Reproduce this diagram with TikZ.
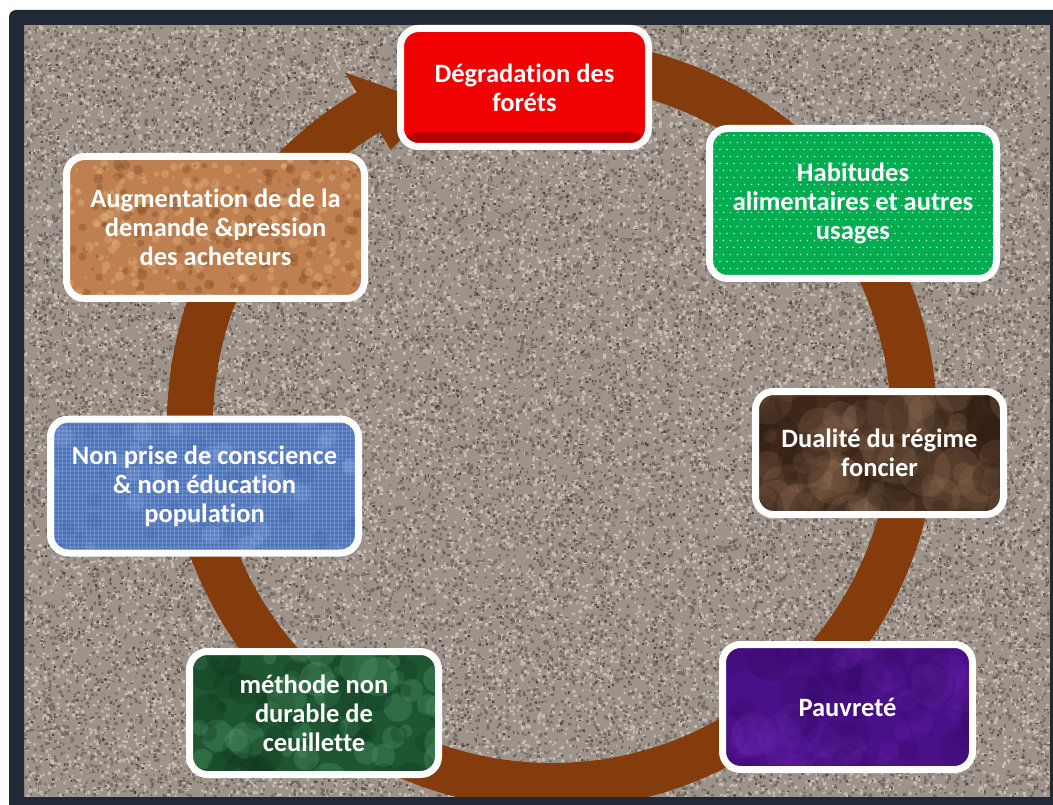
\documentclass[tikz,border=0pt]{standalone}
\usepackage{fontspec}
\setmainfont{Carlito}[Ligatures=NoCommon]
\definecolor{frameC}{RGB}{34,41,54}
\definecolor{graniteC}{RGB}{158,147,138}
\definecolor{ringC}{RGB}{132,60,12}
\definecolor{redC}{RGB}{240,0,0}
\definecolor{redD}{RGB}{175,0,0}
\definecolor{greenC}{RGB}{0,172,80}
\definecolor{dotC}{RGB}{175,232,195}
\definecolor{brownC}{RGB}{70,45,30}
\definecolor{brownL}{RGB}{150,118,90}
\definecolor{brownD}{RGB}{36,22,12}
\definecolor{purpleC}{RGB}{74,16,136}
\definecolor{purpleL}{RGB}{108,40,176}
\definecolor{purpleD}{RGB}{46,8,92}
\definecolor{mgreenC}{RGB}{30,86,50}
\definecolor{mgreenL}{RGB}{92,162,112}
\definecolor{mgreenD}{RGB}{14,52,28}
\definecolor{blueC}{RGB}{92,130,196}
\definecolor{blueL}{RGB}{155,185,232}
\definecolor{blueD}{RGB}{58,92,158}
\definecolor{corkC}{RGB}{190,128,80}
\definecolor{corkL}{RGB}{226,176,126}
\definecolor{corkD}{RGB}{138,84,44}
\makeatletter
\newcommand\granitespecks[5]{% #1 chunks, #2 per chunk, #3 rgb, #4 min size, #5 max size (tenths of px)
  \foreach \cc in {1,...,#1}{%
    \gdef\spkacc{}%
    \foreach \k in {1,...,#2}{%
      \pgfmathrandominteger{\ax}{235}{10480}%
      \pgfmathrandominteger{\ay}{250}{7950}%
      \pgfmathrandominteger{\aw}{#4}{#5}%
      \pgfmathrandominteger{\ah}{#4}{#5}%
      \xdef\spkacc{\spkacc\ax\space\ay\space\aw\space\ah\space re }%
    }%
    \pgfsys@invoke{q 0.099626 0 0 -0.099626 0 0 cm #3 rg \spkacc f Q}%
  }%
}
\makeatother
\newcommand\boxmottle[5]{%
  \foreach \k in {1,...,#3}{%
    \fill[#1, opacity=#4] ([shift={({rnd*330},{rnd*170})}]path picture bounding box.north west) circle ({#5*(0.3+rnd)});
    \fill[#2, opacity=#4] ([shift={({rnd*330},{rnd*170})}]path picture bounding box.north west) circle ({#5*(0.3+rnd)});
  }}
\tikzset{
  box/.style={draw=white, line width=7pt, rounded corners=18pt, text=white,
    align=center, font=\bfseries\fontsize{26.5}{29}\selectfont, inner sep=0pt},
}
\begin{document}
\begin{tikzpicture}[x=1pt,y=-1pt]
\useasboundingbox (0,0) rectangle (1053,805);
\clip (0,0) rectangle (1053,805);
\fill[white] (0,0) rectangle (1053,805);
% granite texture
\begin{scope}
  \clip (24,25) rectangle (1050,797);
  \fill[graniteC] (24,25) rectangle (1050,797);
  \pgfmathsetseed{7}
  \granitespecks{130}{150}{0.776 0.741 0.702}{14}{34}
  \granitespecks{130}{150}{0.463 0.420 0.392}{14}{34}
  \granitespecks{22}{150}{0.310 0.275 0.255}{10}{26}
  % circular arrow
  \coordinate (ctr) at (552,424);
  \draw[ringC, line width=46pt] ([shift={(-85:362)}]ctr) arc[start angle=-85, end angle=240.5, radius=362];
  \coordinate (hb1) at ([shift={(239.5:408)}]ctr);
  \coordinate (hb2) at ([shift={(239.5:318)}]ctr);
  \coordinate (htip) at ([shift={(250:340)}]ctr);
  \fill[ringC] (hb1) -- (htip) -- (hb2) -- cycle;
\end{scope}
% dark frame drawn over the texture edges
\fill[frameC, even odd rule] [rounded corners=7] (9,10) rectangle (1070,820) [sharp corners] (24,25) rectangle (1050,797);
% boxes
\node[box, minimum width=248, minimum height=118, fill=redC,
  path picture={\shade[top color=redC, bottom color=redD] ([shift={(0,-14)}]path picture bounding box.south west) rectangle (path picture bounding box.south east);}]
  (red) at (524.5,87.5) {Dégradation des\\foréts};
\node[box, minimum width=287, minimum height=150, fill=greenC,
  path picture={\foreach \j in {0,...,23}{\pgfmathsetmacro\xo{3.5*mod(\j,2)}\fill[dotC] \foreach \i in {0,...,43}{([shift={(\i*7+\xo,\j*7)}]path picture bounding box.north west) circle (0.9)};}}]
  (green) at (853,203.5) {Habitudes\\alimentaires et autres\\usages};
\node[box, minimum width=248, minimum height=123, fill=brownC,
  path picture={\pgfmathsetseed{11}\boxmottle{brownL}{brownD}{70}{0.22}{22}}]
  (dual) at (879.5,453) {Dualité du régime\\foncier};
\node[box, minimum width=250, minimum height=125, fill=purpleC,
  path picture={\pgfmathsetseed{12}\boxmottle{purpleL}{purpleD}{70}{0.2}{18}}]
  (pauv) at (847.5,707) {Pauvreté};
\node[box, minimum width=249, minimum height=123, fill=mgreenC,
  path picture={\pgfmathsetseed{13}\boxmottle{mgreenL}{mgreenD}{70}{0.28}{16}}]
  (meth) at (314,713) {méthode non\\durable de\\ceuillette};
\node[box, minimum width=308, minimum height=134, fill=blueC,
  path picture={\foreach \i in {0,...,80}{\draw[blueL, opacity=0.45, line width=1.6pt] ([shift={(\i*4,0)}]path picture bounding box.north west) -- ++(0,150);}
    \foreach \j in {0,...,36}{\draw[blueD, opacity=0.35, line width=1.4pt] ([shift={(0,\j*4+2)}]path picture bounding box.north west) -- ++(320,0);}
    \pgfmathsetseed{14}\boxmottle{blueL}{blueD}{40}{0.2}{8}}]
  (blue) at (204.5,486) {Non prise de conscience\\\& non éducation\\population};
\node[box, minimum width=298, minimum height=142, fill=corkC,
  path picture={\pgfmathsetseed{15}\boxmottle{corkL}{corkD}{260}{0.45}{4}}]
  (cork) at (215.5,227.5) {Augmentation de de la\\demande \&pression\\des acheteurs};
\end{tikzpicture}
\end{document}
